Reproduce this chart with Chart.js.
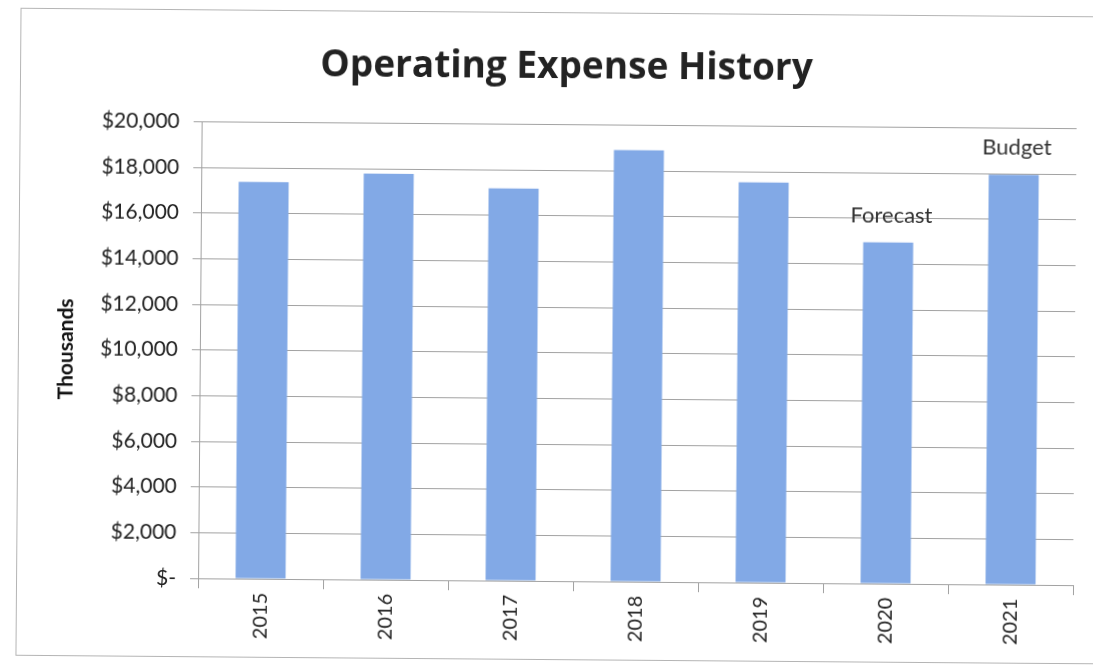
<!DOCTYPE html>
<html>
<head>
<meta charset="utf-8">
<title>Operating Expense History</title>
<script src="https://cdn.jsdelivr.net/npm/chart.js@4/dist/chart.umd.min.js"></script>
<style>
    html, body { margin: 0; padding: 0; background: #fff; overflow: hidden; }
    #page {
        position: relative;
        width: 1093px;
        height: 667px;
        transform: rotate(0.45deg);
    }
    #frame {
        position: absolute;
        left: 18px;
        top: 12px;
        width: 1100px;
        height: 646px;
        border: 1px solid #b5b5b5;
    }
    #chartBox { position: absolute; left: 0; top: 0; width: 1093px; height: 667px; }
</style>
</head>
<body>
<div id="page">
    <div id="frame"></div>
    <div id="chartBox"><canvas id="expenseChart" width="1093" height="667"></canvas></div>
</div>
<script>
// Operating expenses by year, in thousands of dollars
const years = ['2015', '2016', '2017', '2018', '2019', '2020', '2021'];
const expenses = [17380, 17780, 17180, 18900, 17530, 14950, 17950];
const notes = ['', '', '', '', '', 'Forecast', 'Budget'];

const barColor = '#82a9e6';
const gridColor = '#a2a2a2';
const textFont = 'Lato, "Open Sans", sans-serif';

// Writes the Forecast / Budget notes above their bars
const barNotes = {
    id: 'barNotes',
    afterDatasetsDraw(chart) {
        const ctx = chart.ctx;
        const bars = chart.getDatasetMeta(0).data;
        ctx.save();
        ctx.font = '22px ' + textFont;
        ctx.fillStyle = '#333';
        ctx.textAlign = 'center';
        ctx.textBaseline = 'middle';
        bars.forEach((bar, i) => {
            if (!notes[i]) return;
            ctx.fillText(notes[i], bar.x + 3, bar.y - 27);
        });
        ctx.restore();
    }
};

function formatDollars(value) {
    if (value === 0) return '$-';
    return '$' + value.toLocaleString('en-US');
}

const ctx = document.getElementById('expenseChart').getContext('2d');
new Chart(ctx, {
    type: 'bar',
    data: {
        labels: years,
        datasets: [{
            label: 'Operating Expense',
            data: expenses,
            backgroundColor: barColor,
            borderWidth: 0,
            categoryPercentage: 1,
            barPercentage: 0.4
        }]
    },
    options: {
        responsive: false,
        animation: false,
        maintainAspectRatio: false,
        layout: { padding: { left: 54, right: 18, top: 0, bottom: 0 } },
        plugins: {
            legend: { display: false },
            tooltip: { enabled: false },
            title: {
                display: true,
                text: 'Operating Expense History',
                color: '#222',
                font: { family: '"Open Sans", sans-serif', size: 37, weight: 'bold' },
                padding: { top: 45, bottom: 35 }
            }
        },
        scales: {
            x: {
                grid: {
                    offset: true,
                    drawOnChartArea: false,
                    drawTicks: true,
                    tickLength: 10,
                    color: gridColor
                },
                border: { color: gridColor },
                ticks: {
                    color: '#222',
                    font: { family: textFont, size: 20 },
                    minRotation: 90,
                    maxRotation: 90,
                    padding: 4
                },
                afterFit(scale) { scale.height = 86; }
            },
            y: {
                min: 0,
                max: 20000,
                grid: { color: gridColor, tickLength: 8 },
                border: { color: gridColor },
                ticks: {
                    stepSize: 2000,
                    color: '#222',
                    font: { family: textFont, size: 21 },
                    padding: 14,
                    callback: formatDollars
                },
                title: {
                    display: true,
                    text: 'Thousands',
                    color: '#111',
                    font: { family: textFont, size: 21, weight: 'bold' },
                    padding: { top: 0, bottom: 10 }
                },
                afterFit(scale) { scale.width = 146; }
            }
        }
    },
    plugins: [barNotes]
});
</script>
</body>
</html>
